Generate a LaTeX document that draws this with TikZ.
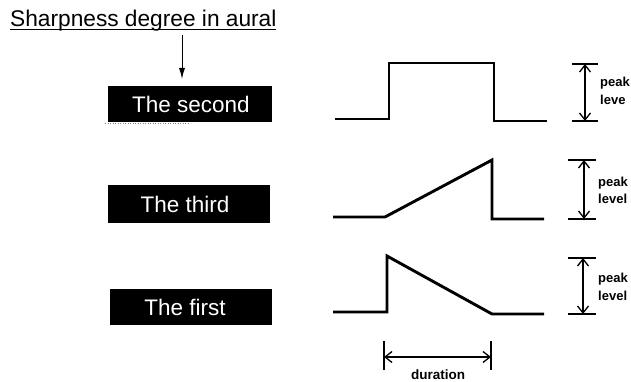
\documentclass[tikz,border=0pt]{standalone}
\usepackage{fontspec}
\setmainfont{Liberation Sans}
\usetikzlibrary{arrows.meta}
\begin{document}
\begin{tikzpicture}[x=1pt,y=-1pt,
 wave/.style={line width=2.9pt, line join=miter},
 tickline/.style={line width=1.3pt},
 dimarrow/.style={line width=1.3pt, {Straight Barb[length=7pt,width=11pt,line width=1.3pt]}-{Straight Barb[length=7pt,width=11pt,line width=1.3pt]}},
 blackbox/.style={fill=black, minimum width=162pt, minimum height=37pt, inner sep=0pt},
 boxtext/.style={text=white, font=\fontsize{22.5}{26}\selectfont, inner sep=0pt},
 smalllabel/.style={font=\bfseries\fontsize{13}{15}\selectfont, inner sep=0pt, anchor=base west},
]
\useasboundingbox (0,0) rectangle (631,382);

% title
\node (title) [anchor=base west, font=\fontsize{22.7}{26}\selectfont, inner sep=0pt] at (10,27) {Sharpness degree in aural};
\coordinate (ul1) at (10,29.5);
\coordinate (ul2) at (276,29.5);
\draw[line width=1.2pt] (ul1) -- (ul2);
\coordinate (arrtop) at (182,35);
\coordinate (arrtip) at (182,79);
\draw[line width=0.9pt, -{Latex[length=11pt,width=6pt]}] (arrtop) -- (arrtip);

% boxes
\node (box2) [blackbox, minimum width=164pt, minimum height=36pt] at (190,104) {};
\node (t2) [boxtext] at (191,104) {The second};
\coordinate (dl1) at (105,123);
\coordinate (dl2) at (190,123);
\draw[gray, dotted, line width=0.5pt] (dl1) -- (dl2);

\node (box3) [blackbox, minimum height=38pt] at (189,204) {};
\node (t3) [boxtext] at (185,204) {The third};

\node (box1) [blackbox, minimum height=36pt] at (191,307) {};
\node (t1) [boxtext] at (185,307) {The first};

% waveforms
\draw[wave] (335,119) -- (389,119) -- (389,63) -- (494,63) -- (494,121) -- (547,121);
\draw[wave] (333,217) -- (385,217) -- (492,160) -- (492,219) -- (544,219);
\draw[wave] (333,312) -- (387,312) -- (387,256) -- (492,314) -- (544,314);

% peak level (top)
\coordinate (pa1) at (585,64);
\coordinate (pa2) at (585,121);
\draw[tickline] (572,64) -- (598,64);
\draw[tickline] (572,121) -- (598,121);
\draw[dimarrow] (pa1) -- (pa2);
\node (pk1) [smalllabel] at (600,87) {peak};
\node (lv1) [smalllabel] at (600,105) {leve};

% peak level (middle)
\coordinate (pb1) at (584,160);
\coordinate (pb2) at (584,219);
\draw[tickline] (568,160) -- (596,160);
\draw[tickline] (568,219) -- (596,219);
\draw[dimarrow] (pb1) -- (pb2);
\node (pk2) [smalllabel] at (598,186) {peak};
\node (lv2) [smalllabel] at (598,204) {level};

% peak level (bottom)
\coordinate (pc1) at (583,258);
\coordinate (pc2) at (583,314);
\draw[tickline] (568,258) -- (596,258);
\draw[tickline] (568,314) -- (596,314);
\draw[dimarrow] (pc1) -- (pc2);
\node (pk3) [smalllabel] at (598,282) {peak};
\node (lv3) [smalllabel] at (598,300) {level};

% duration
\coordinate (du1) at (384,357);
\coordinate (du2) at (491,357);
\draw[tickline] (384,341) -- (384,370);
\draw[tickline] (491,341) -- (491,370);
\draw[dimarrow] (du1) -- (du2);
\node (dur) [font=\bfseries\fontsize{13.5}{15}\selectfont, inner sep=0pt, anchor=base] at (438,379) {duration};
\end{tikzpicture}
\end{document}
